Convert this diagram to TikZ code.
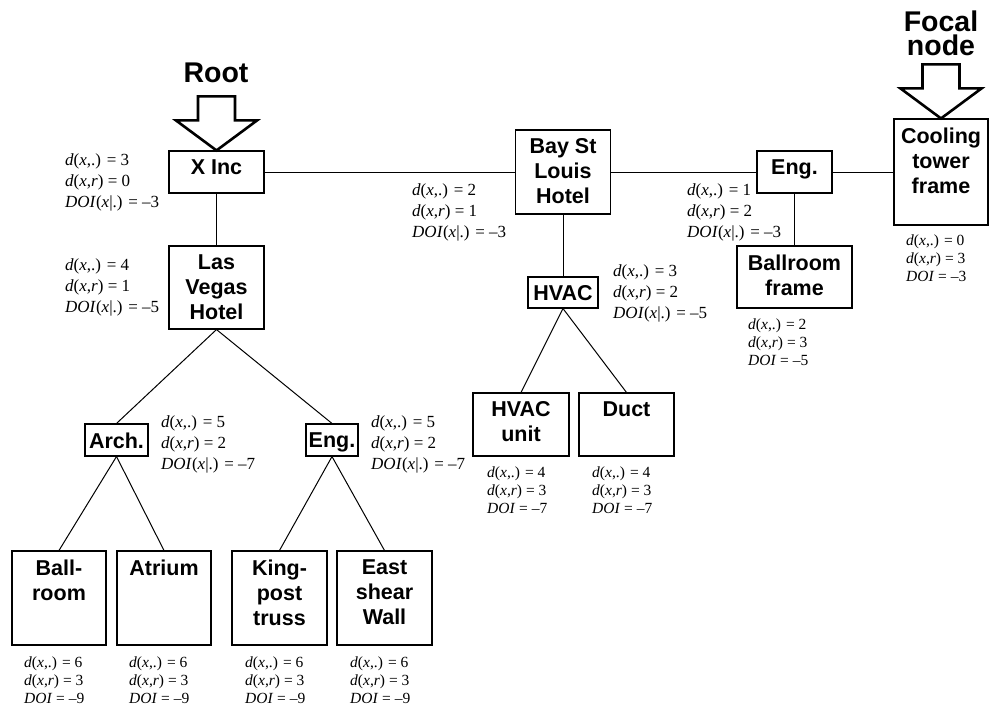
\documentclass[tikz,border=0pt]{standalone}
\usepackage{fontspec}
\setmainfont{Liberation Serif}
\newfontfamily\sansfam{Liberation Sans}
\newcommand\dxdot[1]{\textit{d}(\textit{x},.) = #1}
\newcommand\dxr[1]{\textit{d}(\textit{x},\textit{r}) = #1}
\newcommand\doicond[1]{\textit{DOI}(\textit{x}|.) = #1}
\newcommand\doiplain[1]{\textit{DOI} = #1}
\begin{document}
\begin{tikzpicture}[x=1pt,y=-1pt,
  box/.style 2 args={draw, line width=1.1pt, inner sep=0pt,
    minimum width=#1pt, minimum height=#2pt},
  boxtext/.style={anchor=north, align=center, inner sep=0pt, yshift=-9pt,
    font=\sansfam\bfseries\fontsize{21.5}{25}\selectfont},
  lab/.style={anchor=north west, align=left, inner sep=0pt,
    font=\fontsize{17}{21}\selectfont},
  slab/.style={anchor=north west, align=left, inner sep=0pt,
    font=\fontsize{15.5}{18}\selectfont},
  head/.style={anchor=base, inner sep=0pt,
    font=\sansfam\bfseries\fontsize{28.5}{30}\selectfont},
  link/.style={line width=1pt},
  blockarrow/.style={line width=2.6pt, line join=miter, fill=white},
  downarrow/.pic={
    \draw[blockarrow] (0,0) -- (40.5,-30) -- (18.5,-30) -- (18.5,-54)
      -- (-18.5,-54) -- (-18.5,-30) -- (-40.5,-30) -- cycle;
  }]
\fill[white] (0,0) rectangle (989,709);
\useasboundingbox (0,0) rectangle (989,709);

% upper row
\node[box={95}{42}]  (xinc) at (216.5,172) {};
\node[box={95}{84}]  (bay)  at (563,172) {};
\node[box={75}{42}]  (engr) at (794.5,172) {};
\node[box={94}{106}] (cool) at (941,172) {};
\node[box={95}{83}]  (lvh)  at (216.5,287.5) {};
\node[box={70}{31}]  (hvac) at (563,292.5) {};
\node[box={115}{62}] (bfr)  at (794.5,277) {};
% middle row
\node[box={63}{32}]  (arch)  at (116.5,440) {};
\node[box={52}{32}]  (engl)  at (332,440) {};
\node[box={96}{63}]  (hvacu) at (521,424.5) {};
\node[box={95}{63}]  (duct)  at (626.5,424.5) {};
% bottom row
\node[box={94}{94}]  (ballroom) at (59,598) {};
\node[box={94}{94}]  (atrium)   at (164,598) {};
\node[box={95}{94}]  (king)     at (279.5,598) {};
\node[box={95}{94}]  (east)     at (384.5,598) {};

% box captions
\node[boxtext] (xinc-t)     at (xinc.north)     {X Inc};
\node[boxtext] (bay-t)      at (bay.north)      {Bay St\\Louis\\Hotel};
\node[boxtext] (engr-t)     at (engr.north)     {Eng.};
\node[boxtext] (cool-t)     at (cool.north)     {Cooling\\tower\\frame};
\node[boxtext] (lvh-t)      at (lvh.north)      {Las\\Vegas\\Hotel};
\node[boxtext] (hvac-t)     at (hvac.north)     {HVAC};
\node[boxtext] (bfr-t)      at (bfr.north)      {Ballroom\\frame};
\node[boxtext] (arch-t)     at (arch.north)     {Arch.};
\node[boxtext] (engl-t)     at (engl.north)     {Eng.};
\node[boxtext] (hvacu-t)    at (hvacu.north)    {HVAC\\unit};
\node[boxtext] (duct-t)     at (duct.north)     {Duct};
\node[boxtext] (ballroom-t) at (ballroom.north) {Ball-\\room};
\node[boxtext] (atrium-t)   at (atrium.north)   {Atrium};
\node[boxtext] (king-t)     at (king.north)     {King-\\post\\truss};
\node[boxtext] (east-t)     at (east.north)     {East\\shear\\Wall};

% tree edges
\draw[link] (xinc.east) -- (bay.west);
\draw[link] (bay.east) -- (engr.west);
\draw[link] (engr.east) -- (cool.west);
\draw[link] (xinc.south) -- (lvh.north);
\draw[link] (bay.south) -- (hvac.north);
\draw[link] (engr.south) -- (bfr.north);
\draw[link] (lvh.south) -- (arch.north);
\draw[link] (lvh.south) -- (engl.north);
\draw[link] (hvac.south) -- (hvacu.north);
\draw[link] (hvac.south) -- (duct.north);
\draw[link] (arch.south) -- (ballroom.north);
\draw[link] (arch.south) -- (atrium.north);
\draw[link] (engl.south) -- (king.north);
\draw[link] (engl.south) -- (east.north);

% distance and DOI annotations
\node[lab] (xinc-l) at (65,153.5)  {\dxdot{3}\\\dxr{0}\\\doicond{–3}};
\node[lab] (lvh-l)  at (65,258.5)  {\dxdot{4}\\\dxr{1}\\\doicond{–5}};
\node[lab] (bay-l)  at (412,183.5) {\dxdot{2}\\\dxr{1}\\\doicond{–3}};
\node[lab] (hvac-l) at (613,265) {\dxdot{3}\\\dxr{2}\\\doicond{–5}};
\node[lab] (engr-l) at (687,183.5) {\dxdot{1}\\\dxr{2}\\\doicond{–3}};
\node[lab] (arch-l) at (161,415.5) {\dxdot{5}\\\dxr{2}\\\doicond{–7}};
\node[lab] (engl-l) at (371,415.5) {\dxdot{5}\\\dxr{2}\\\doicond{–7}};
\node[slab] (cool-l)     at (906,235) {\dxdot{0}\\\dxr{3}\\\doiplain{–3}};
\node[slab] (bfr-l)      at (748,319) {\dxdot{2}\\\dxr{3}\\\doiplain{–5}};
\node[slab] (hvacu-l)    at (487,467) {\dxdot{4}\\\dxr{3}\\\doiplain{–7}};
\node[slab] (duct-l)     at (592,467) {\dxdot{4}\\\dxr{3}\\\doiplain{–7}};
\node[slab] (ballroom-l) at (24,657)  {\dxdot{6}\\\dxr{3}\\\doiplain{–9}};
\node[slab] (atrium-l)   at (129,657) {\dxdot{6}\\\dxr{3}\\\doiplain{–9}};
\node[slab] (king-l)     at (245,657) {\dxdot{6}\\\dxr{3}\\\doiplain{–9}};
\node[slab] (east-l)     at (350,657) {\dxdot{6}\\\dxr{3}\\\doiplain{–9}};

% root and focal markers
\node[head] (root-h)  at (216,83) {Root};
\pic at (xinc.north) {downarrow};
\node[head] (focal-h) at (941,32) {Focal};
\node[head] (node-h)  at (941,56) {node};
\pic at (cool.north) {downarrow};
\end{tikzpicture}
\end{document}
